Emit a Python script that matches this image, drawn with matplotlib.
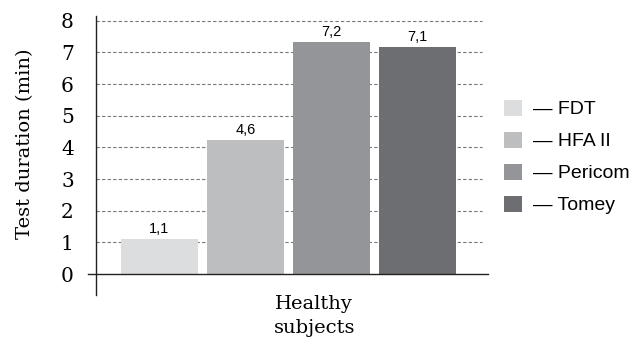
import matplotlib
matplotlib.use('Agg')
import matplotlib.pyplot as plt
from matplotlib.patches import Patch

# data
devices = ['FDT', 'HFA II', 'Pericom', 'Tomey']
heights = [1.1, 4.23, 7.33, 7.17]
value_labels = ['1,1', '4,6', '7,2', '7,1']
colors = ['#dcdddf', '#bdbec0', '#939598', '#6d6e71']
yticks = [0, 1, 2, 3, 4, 5, 6, 7, 8]
group_label = 'Healthy\nsubjects'

serif = ['DejaVu Serif']
narrow = ['Liberation Sans', 'DejaVu Sans']

W, H = 641, 346
fig = plt.figure(figsize=(W / 100, H / 100), dpi=100)
ax = fig.add_axes([96 / W, (H - 295) / H, (488 - 96) / W, (295 - 16) / H])

x = list(range(len(devices)))
ax.bar(x, heights, width=0.9, color=colors, zorder=2)
for xi, h, lab in zip(x, heights, value_labels):
    ax.annotate(lab, (xi, h), xytext=(0, 2), textcoords='offset points',
                ha='center', va='bottom', fontsize=10.5, family=narrow)

ax.set_xlim(-0.738, 3.82)
ax.set_ylim(-0.66, 8.15)

for y in yticks[1:]:
    ax.axhline(y, xmin=0, xmax=0.985, color='#777777', ls=(0, (3, 2)), lw=0.8, zorder=0)
ax.axhline(0, xmin=-0.02, xmax=1.0, color='#222222', lw=1.0, clip_on=False, zorder=3)

for s in ['top', 'right', 'bottom']:
    ax.spines[s].set_visible(False)
ax.spines['left'].set_color('#222222')
ax.spines['left'].set_linewidth(1.0)

ax.set_yticks(yticks)
ax.set_yticklabels([str(t) for t in yticks], fontsize=14.5, family=serif)
ax.tick_params(axis='y', length=0, pad=16)
ax.set_xticks([1.8])
ax.set_xticklabels([group_label], fontsize=14, family=serif, linespacing=1.45)
ax.tick_params(axis='x', length=0, pad=0)
ax.set_ylabel('Test duration (min)', fontsize=14, family=serif)
ax.yaxis.set_label_coords(-0.158, 0.541)

handles = [Patch(facecolor=c, edgecolor='none') for c in colors]
fig.legend(handles, ['— ' + d for d in devices], loc='center left',
           bbox_to_anchor=(504 / W, (H - 157) / H), frameon=False,
           borderpad=0, borderaxespad=0, handlelength=0.9, handleheight=0.9,
           handletextpad=0.6, labelspacing=0.68,
           prop={'family': narrow, 'size': 14})

fig.savefig('out.png', dpi=100)
